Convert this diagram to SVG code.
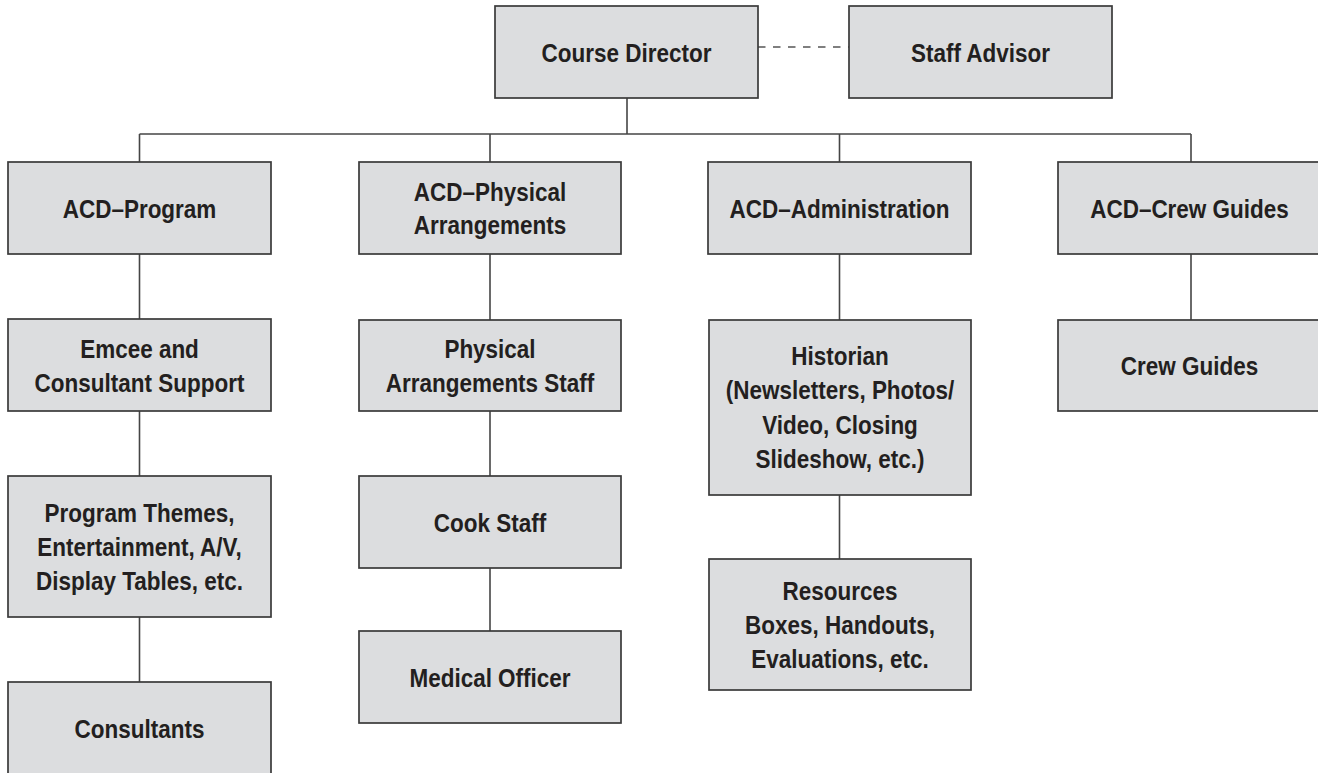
<svg xmlns="http://www.w3.org/2000/svg" width="1318" height="773" viewBox="0 0 1318 773">
<style>
.box{fill:#dcdddf;stroke:#3a3a3a;stroke-width:1.7}
.lbl{font-family:"Liberation Sans",Arial,sans-serif;font-weight:bold;font-size:26px;fill:#231f20;text-anchor:middle}
.ln{stroke:#454545;stroke-width:1.6;fill:none}
.dash{stroke:#555;stroke-width:1.6;stroke-dasharray:7.5 7.5;fill:none}
</style>
<rect width="1318" height="773" fill="#fff"/>
<g id="connectors">
<line class="dash" x1="758" y1="47" x2="849" y2="47"/>
<line class="ln" x1="627" y1="98" x2="627" y2="134"/>
<line class="ln" x1="139.5" y1="134" x2="1191" y2="134"/>
<line class="ln" x1="139.5" y1="134" x2="139.5" y2="162"/>
<line class="ln" x1="490" y1="134" x2="490" y2="162"/>
<line class="ln" x1="839.5" y1="134" x2="839.5" y2="162"/>
<line class="ln" x1="1191" y1="134" x2="1191" y2="162"/>
<line class="ln" x1="139.5" y1="254" x2="139.5" y2="319"/>
<line class="ln" x1="139.5" y1="411" x2="139.5" y2="476"/>
<line class="ln" x1="139.5" y1="617" x2="139.5" y2="682"/>
<line class="ln" x1="490" y1="254" x2="490" y2="320"/>
<line class="ln" x1="490" y1="411" x2="490" y2="476"/>
<line class="ln" x1="490" y1="568" x2="490" y2="631"/>
<line class="ln" x1="839.5" y1="254" x2="839.5" y2="320"/>
<line class="ln" x1="839.5" y1="495" x2="839.5" y2="559"/>
<line class="ln" x1="1191" y1="254" x2="1191" y2="320"/>
</g>
<g id="course-director">
<rect class="box" x="495" y="6" width="263" height="92"/>
<text class="lbl" transform="translate(626.5,62) scale(0.865,1)">Course Director</text>
</g>
<g id="staff-advisor">
<rect class="box" x="849" y="6" width="263" height="92"/>
<text class="lbl" transform="translate(980.5,62) scale(0.865,1)">Staff Advisor</text>
</g>
<g id="acd-program">
<rect class="box" x="8" y="162" width="263" height="92"/>
<text class="lbl" transform="translate(139.5,217.5) scale(0.865,1)">ACD–Program</text>
</g>
<g id="acd-physical">
<rect class="box" x="359" y="162" width="262" height="92"/>
<text class="lbl" transform="translate(490,201) scale(0.865,1)"><tspan x="0" y="0">ACD–Physical</tspan><tspan x="0" y="33.5">Arrangements</tspan></text>
</g>
<g id="acd-administration">
<rect class="box" x="708" y="162" width="263" height="92"/>
<text class="lbl" transform="translate(839.5,217.5) scale(0.865,1)">ACD–Administration</text>
</g>
<g id="acd-crew-guides">
<rect class="box" x="1058" y="162" width="264" height="92"/>
<text class="lbl" transform="translate(1189.5,217.5) scale(0.865,1)">ACD–Crew Guides</text>
</g>
<g id="emcee">
<rect class="box" x="8" y="319" width="263" height="92"/>
<text class="lbl" transform="translate(139.5,357.5) scale(0.865,1)"><tspan x="0" y="0">Emcee and</tspan><tspan x="0" y="34.5">Consultant Support</tspan></text>
</g>
<g id="physical-staff">
<rect class="box" x="359" y="320" width="262" height="91"/>
<text class="lbl" transform="translate(490,357.5) scale(0.865,1)"><tspan x="0" y="0">Physical</tspan><tspan x="0" y="34.5">Arrangements Staff</tspan></text>
</g>
<g id="historian">
<rect class="box" x="709" y="320" width="262" height="175"/>
<text class="lbl" transform="translate(840,365) scale(0.865,1)"><tspan x="0" y="0">Historian</tspan><tspan x="0" y="34.5">(Newsletters, Photos/</tspan><tspan x="0" y="69">Video, Closing</tspan><tspan x="0" y="103.5">Slideshow, etc.)</tspan></text>
</g>
<g id="crew-guides">
<rect class="box" x="1058" y="320" width="264" height="91"/>
<text class="lbl" transform="translate(1189.5,375) scale(0.865,1)">Crew Guides</text>
</g>
<g id="program-themes">
<rect class="box" x="8" y="476" width="263" height="141"/>
<text class="lbl" transform="translate(139.5,521.5) scale(0.865,1)"><tspan x="0" y="0">Program Themes,</tspan><tspan x="0" y="34.5">Entertainment, A/V,</tspan><tspan x="0" y="69">Display Tables, etc.</tspan></text>
</g>
<g id="cook-staff">
<rect class="box" x="359" y="476" width="262" height="92"/>
<text class="lbl" transform="translate(490,531.5) scale(0.865,1)">Cook Staff</text>
</g>
<g id="resources">
<rect class="box" x="709" y="559" width="262" height="131"/>
<text class="lbl" transform="translate(840,599.5) scale(0.865,1)"><tspan x="0" y="0">Resources</tspan><tspan x="0" y="34.5">Boxes, Handouts,</tspan><tspan x="0" y="69">Evaluations, etc.</tspan></text>
</g>
<g id="medical-officer">
<rect class="box" x="359" y="631" width="262" height="92"/>
<text class="lbl" transform="translate(490,686.5) scale(0.865,1)">Medical Officer</text>
</g>
<g id="consultants">
<rect class="box" x="8" y="682" width="263" height="93"/>
<text class="lbl" transform="translate(139.5,737.5) scale(0.865,1)">Consultants</text>
</g>
</svg>
